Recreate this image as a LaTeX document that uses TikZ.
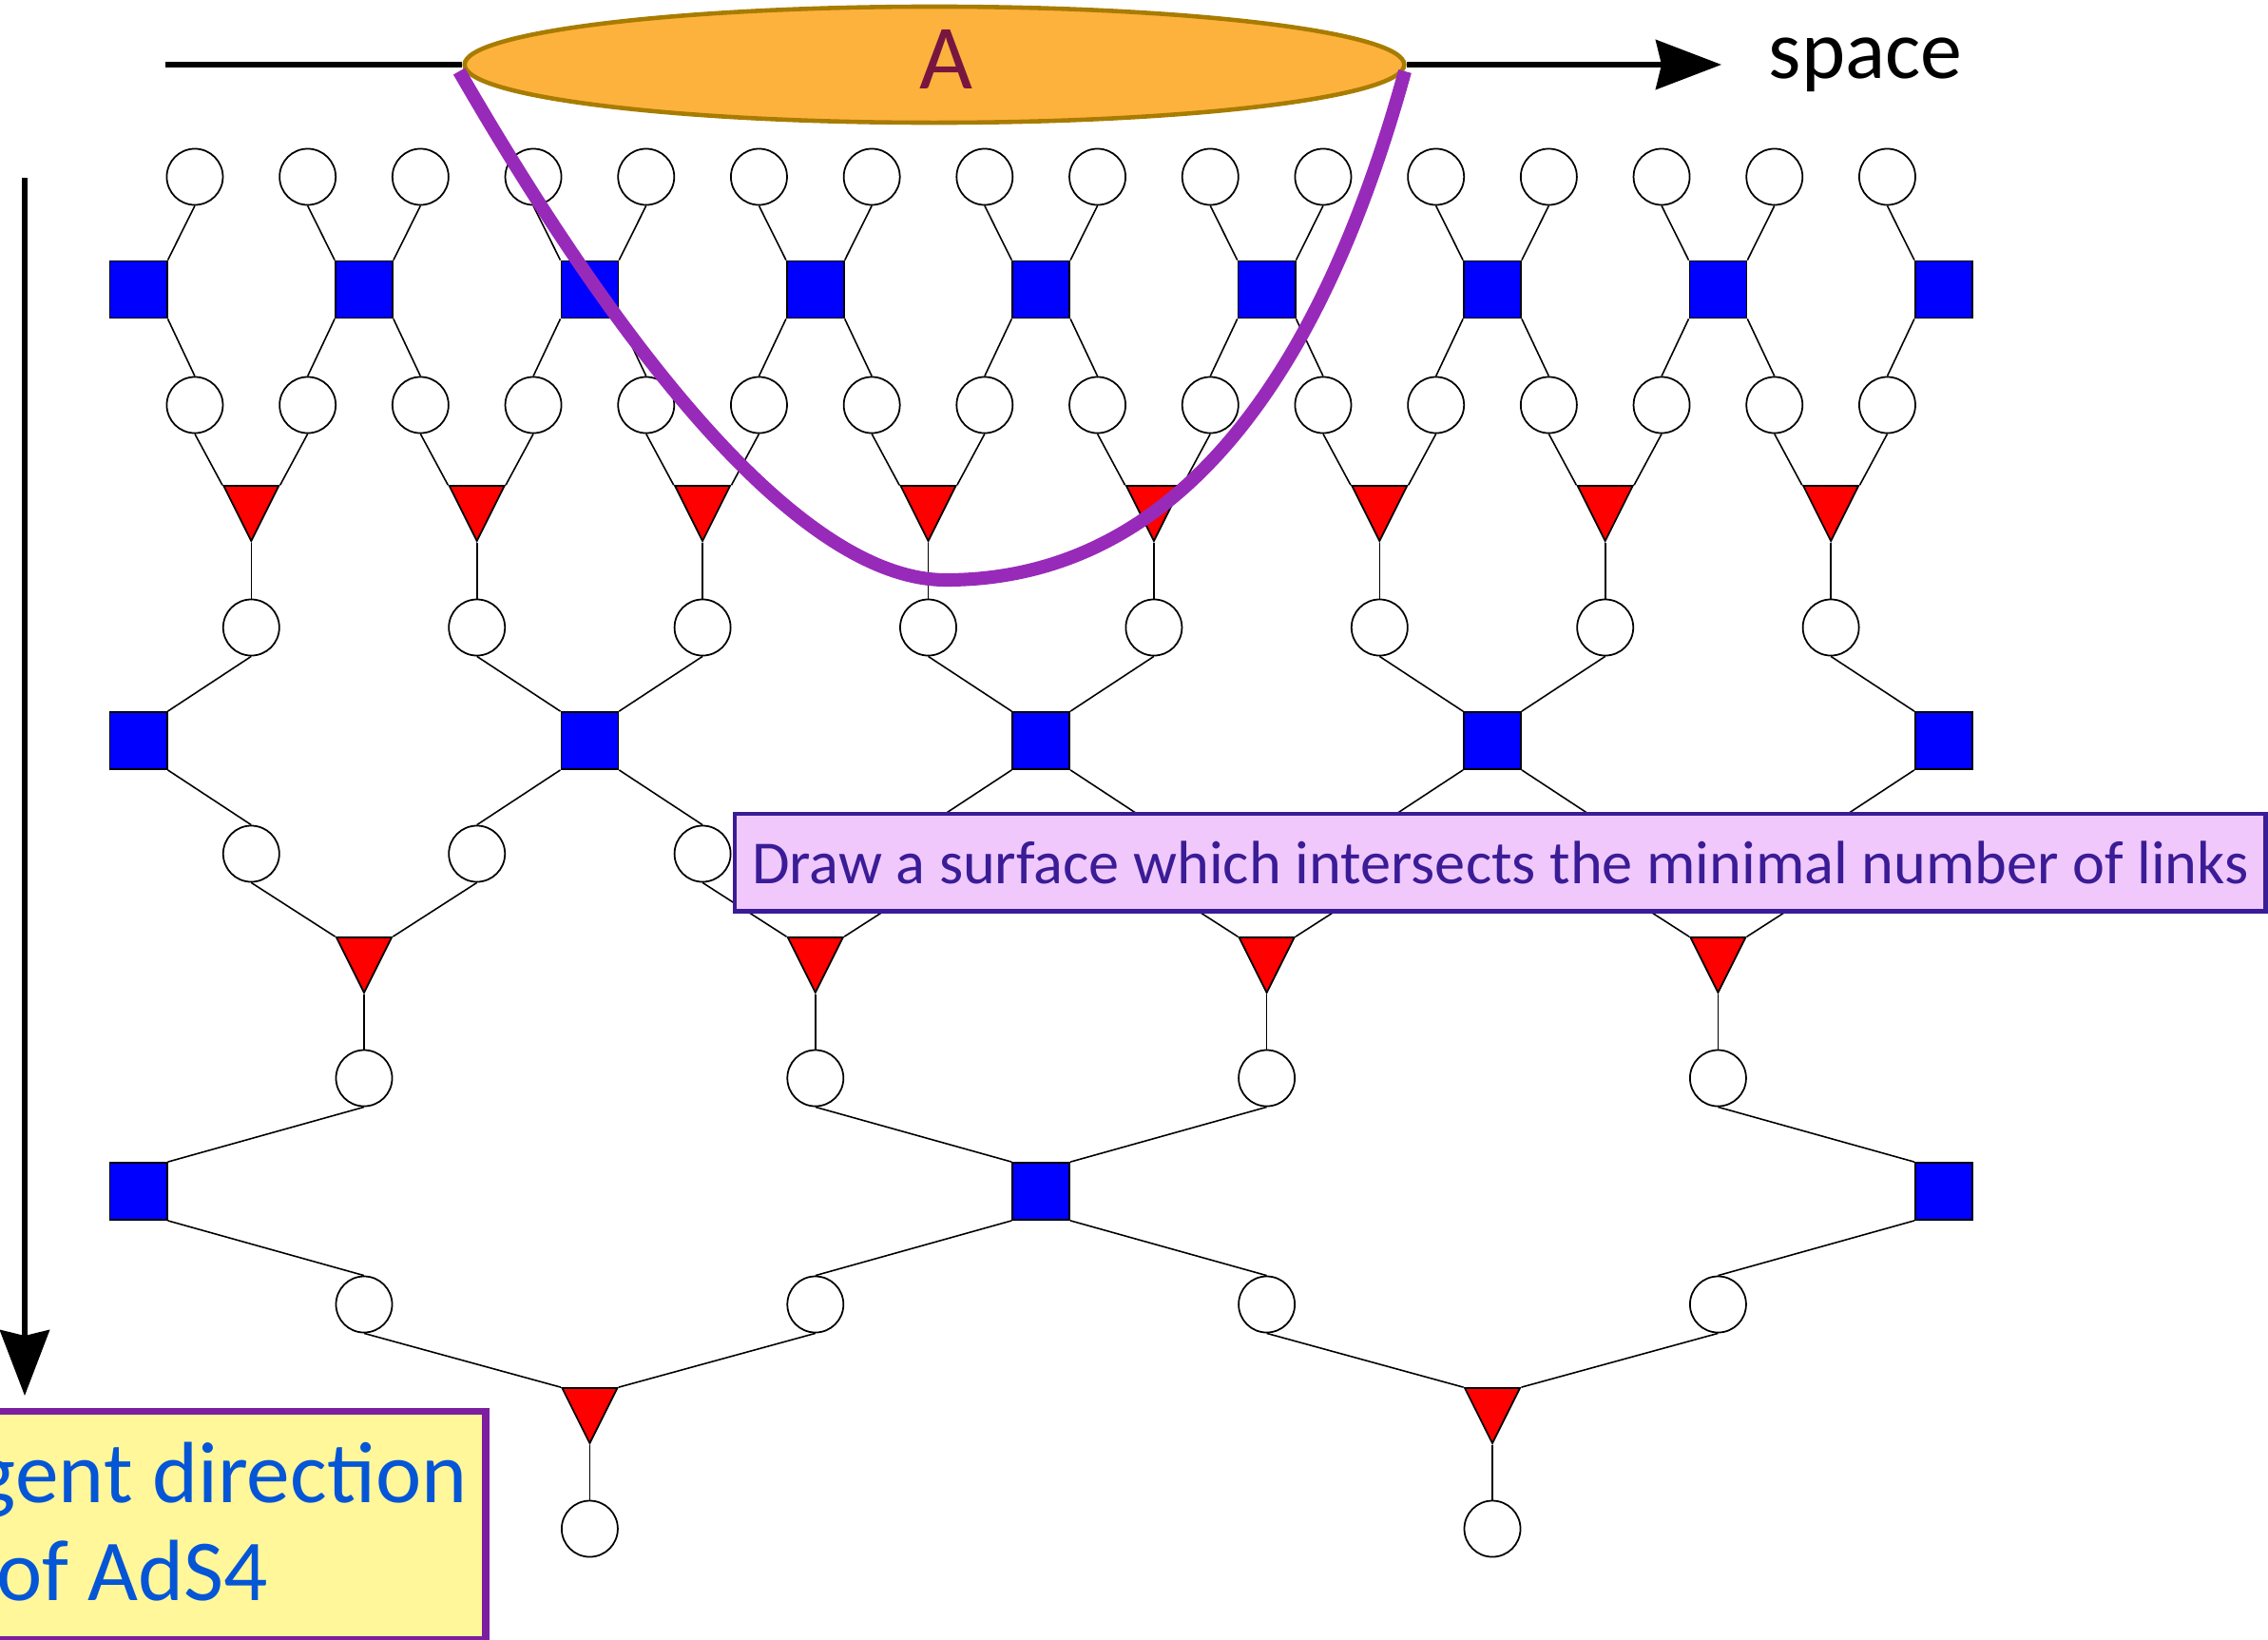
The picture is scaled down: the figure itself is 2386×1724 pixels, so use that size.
\documentclass[tikz,border=0pt]{standalone}
\usepackage{fontspec}
\setmainfont{Carlito}
\usetikzlibrary{shapes.geometric,arrows.meta}
\definecolor{sqblue}{RGB}{0,0,255}
\definecolor{trired}{RGB}{255,0,0}
\definecolor{regfill}{RGB}{253,178,62}
\definecolor{regdraw}{RGB}{168,124,0}
\definecolor{regtext}{RGB}{120,22,64}
\definecolor{surfcol}{RGB}{152,42,186}
\definecolor{notefill}{RGB}{240,200,252}
\definecolor{notedraw}{RGB}{58,28,150}
\definecolor{yelfill}{RGB}{255,247,153}
\definecolor{yeldraw}{RGB}{123,31,160}
\definecolor{yeltext}{RGB}{5,85,215}
\begin{document}
\begin{tikzpicture}[x=0.01cm,y=-0.01cm,
  site/.style={circle,draw=black,fill=white,line width=0.5pt,minimum size=0.59cm,inner sep=0pt},
  disent/.style={rectangle,draw=black,fill=sqblue,line width=0.5pt,minimum size=0.6cm,inner sep=0pt},
  iso/.style={isosceles triangle,isosceles triangle apex angle=53.13,shape border rotate=270,draw=black,fill=trired,line width=0.5pt,minimum width=0.58cm,minimum height=0.58cm,inner sep=0pt,anchor=apex},
  link/.style={line width=0.45pt,black},
  axisarrow/.style={line width=1.5pt,black,-{Stealth[length=0.69cm,width=0.52cm,inset=0.06cm]}}
]
\useasboundingbox (0,0) rectangle (2386,1724);
% ---------- nodes ----------
\foreach \k in {1,3,...,31} {
  \node[site] (r0-\k) at ({145.6+59.35*\k},186) {};
  \node[site] (r2-\k) at ({145.6+59.35*\k},426) {};
}
\foreach \k in {0,4,...,32} \node[disent] (s1-\k) at ({145.6+59.35*\k},304.5) {};
\foreach \k in {2,6,...,30} {
  \node[iso] (t3-\k) at ({145.6+59.35*\k},571) {};
  \node[site] (r4-\k) at ({145.6+59.35*\k},660) {};
  \node[site] (r6-\k) at ({145.6+59.35*\k},898) {};
}
\foreach \k in {0,8,...,32} \node[disent] (s5-\k) at ({145.6+59.35*\k},779) {};
\foreach \k in {4,12,20,28} {
  \node[iso] (t7-\k) at ({145.6+59.35*\k},1046) {};
  \node[site] (r8-\k) at ({145.6+59.35*\k},1134) {};
  \node[site] (r10-\k) at ({145.6+59.35*\k},1372) {};
}
\foreach \k in {0,16,32} \node[disent] (s9-\k) at ({145.6+59.35*\k},1253) {};
\foreach \k in {8,24} {
  \node[iso] (t11-\k) at ({145.6+59.35*\k},1520) {};
  \node[site] (r12-\k) at ({145.6+59.35*\k},1608) {};
}
% ---------- links ----------
\foreach \j in {4,8,...,32} {
  \pgfmathtruncatemacro\m{\j-1}
  \draw[link] (r0-\m.south) -- (s1-\j.north west);
  \draw[link] (s1-\j.south west) -- (r2-\m.north);
}
\foreach \j in {0,4,...,28} {
  \pgfmathtruncatemacro\p{\j+1}
  \draw[link] (r0-\p.south) -- (s1-\j.north east);
  \draw[link] (s1-\j.south east) -- (r2-\p.north);
}
\foreach \k in {2,6,...,30} {
  \pgfmathtruncatemacro\m{\k-1}
  \pgfmathtruncatemacro\p{\k+1}
  \draw[link] (r2-\m.south) -- (t3-\k.right corner);
  \draw[link] (r2-\p.south) -- (t3-\k.left corner);
  \draw[link] (t3-\k.apex) -- (r4-\k.north);
}
\foreach \j in {8,16,24,32} {
  \pgfmathtruncatemacro\m{\j-2}
  \draw[link] (r4-\m.south) -- (s5-\j.north west);
  \draw[link] (s5-\j.south west) -- (r6-\m.north);
}
\foreach \j in {0,8,16,24} {
  \pgfmathtruncatemacro\p{\j+2}
  \draw[link] (r4-\p.south) -- (s5-\j.north east);
  \draw[link] (s5-\j.south east) -- (r6-\p.north);
}
\foreach \k in {4,12,20,28} {
  \pgfmathtruncatemacro\m{\k-2}
  \pgfmathtruncatemacro\p{\k+2}
  \draw[link] (r6-\m.south) -- (t7-\k.right corner);
  \draw[link] (r6-\p.south) -- (t7-\k.left corner);
  \draw[link] (t7-\k.apex) -- (r8-\k.north);
}
\foreach \j in {16,32} {
  \pgfmathtruncatemacro\m{\j-4}
  \draw[link] (r8-\m.south) -- (s9-\j.north west);
  \draw[link] (s9-\j.south west) -- (r10-\m.north);
}
\foreach \j in {0,16} {
  \pgfmathtruncatemacro\p{\j+4}
  \draw[link] (r8-\p.south) -- (s9-\j.north east);
  \draw[link] (s9-\j.south east) -- (r10-\p.north);
}
\foreach \k in {8,24} {
  \pgfmathtruncatemacro\m{\k-4}
  \pgfmathtruncatemacro\p{\k+4}
  \draw[link] (r10-\m.south) -- (t11-\k.right corner);
  \draw[link] (r10-\p.south) -- (t11-\k.left corner);
  \draw[link] (t11-\k.apex) -- (r12-\k.north);
}
% ---------- space axis and region A ----------
\node[ellipse,draw=regdraw,fill=regfill,line width=1.3pt,minimum width=9.88cm,minimum height=1.22cm,inner sep=0pt] (regA) at (983,68) {};
\node[anchor=base,inner sep=0pt,text=regtext,font=\fontsize{27.5}{32}\selectfont] (labA) at (995,93) {A};
\coordinate (hstart) at (174,68);
\coordinate (hend) at (1811,68);
\draw[line width=1.5pt,black] (hstart) -- (regA.west);
\draw[axisarrow] (regA.east) -- (hend);
\node[anchor=base west,inner sep=0pt,font=\fontsize{25}{30}\selectfont] (spc) at (1860,82) {space};
% ---------- vertical axis ----------
\coordinate (vtop) at (26,187);
\coordinate (vtip) at (26,1468);
\draw[axisarrow] (vtop) -- (vtip);
% ---------- minimal surface ----------
\coordinate (cL) at (483,75);
\coordinate (cB) at (995,610);
\coordinate (cR) at (1478,75);
\draw[surfcol,line width=4pt] (cL) .. controls (658,378) and (845,610) .. (cB) .. controls (1255,610) and (1398.5,364) .. (cR);
% ---------- note box ----------
\node[draw=notedraw,fill=notefill,line width=1.4pt,minimum width=16.1cm,minimum height=1.02cm,inner sep=0pt,anchor=north west,text=notedraw,font=\fontsize{18.3}{22}\selectfont] (note) at (770.5,853.5) {Draw a surface which intersects the minimal number of links};
% ---------- yellow box ----------
\node[draw=yeldraw,fill=yelfill,line width=2pt,anchor=north east,minimum width=5.4cm,minimum height=2.4cm,inner sep=0pt] (ybox) at (514.5,1480.5) {};
\node[anchor=base east,inner sep=0pt,text=yeltext,font=\fontsize{26}{30}\selectfont] (y1) at (492,1580) {gent direction};
\node[anchor=base east,inner sep=0pt,text=yeltext,font=\fontsize{26}{30}\selectfont] (y2) at (283,1683) {of AdS4};
\end{tikzpicture}
\end{document}
